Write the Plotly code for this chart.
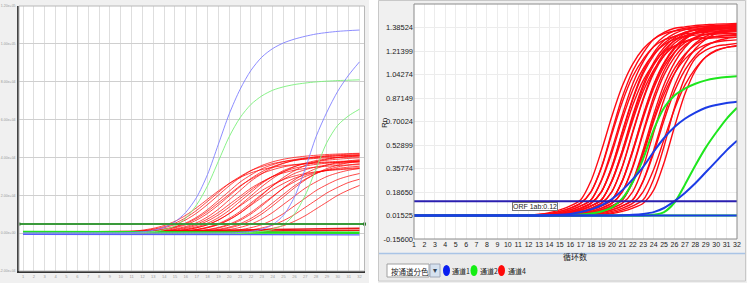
import plotly.graph_objects as go

W, H = 747, 283
cycles = list(range(1, 33))

# ---------------- LEFT PANEL DATA (fluorescence, raw units) ----------------
left_y_ticks = [-20000, 0, 20000, 40000, 60000, 80000, 100000, 120000]
left_y_text = ["-2.00e+04", "0.00e+00", "2.00e+04", "4.00e+04", "6.00e+04", "8.00e+04", "1.00e+05", "1.20e+05"]
left_threshold = 4800

left_blue = [
    [0, 0, 0, 0, 0, 0, 0, 0, 0, 0, 300, 700, 1500, 3000, 6000, 11000, 19000, 31000, 47000, 63000,
     76000, 86000, 93000, 97500, 100500, 102500, 104000, 105200, 106000, 106600, 107000, 107300],
    [0, 0, 0, 0, 0, 0, 0, 0, 0, 0, 0, 0, 0, 0, 0, 0, 0, 0, 0, 0,
     400, 900, 2000, 4500, 9500, 19000, 34000, 51000, 64000, 75000, 83500, 90500],
]
left_green = [
    [0, 0, 0, 0, 0, 0, 0, 0, 0, 0, 0, 300, 800, 1800, 3800, 8000, 15000, 25000, 38000, 51000,
     61000, 68000, 72500, 75500, 77300, 78500, 79300, 79900, 80300, 80600, 80800, 81000],
    [0, 0, 0, 0, 0, 0, 0, 0, 0, 0, 0, 0, 0, 0, 0, 0, 0, 0, 0, 0,
     0, 400, 900, 2000, 4500, 10000, 20000, 34000, 48000, 57000, 62000, 65500],
]
left_red = [
    [0, 0, 0, 0, 0, 0, 0, 150, 290, 540, 930, 1570, 2550, 4020, 6270, 9460, 13480, 17890, 22300, 26220,
     29400, 31850, 33570, 34790, 35620, 36210, 36650, 37000, 37240, 37440, 37580, 37680],
    [0, 0, 0, 0, 0, 0, 0, 0, 210, 420, 740, 1260, 2100, 3360, 5250, 8190, 12080, 16800, 21530, 26250,
     29930, 33080, 35180, 36750, 37800, 38540, 39060, 39480, 39800, 40010, 40220, 40320],
    [0, 0, 0, 0, 0, 0, 0, 0, 165, 330, 605, 1045, 1760, 2860, 4510, 7040, 10620, 15130, 20080, 25030,
     29430, 33000, 35750, 37680, 39050, 39990, 40650, 41140, 41530, 41800, 42020, 42190],
    [0, 0, 0, 0, 0, 0, 0, 0, 0, 200, 400, 700, 1200, 2000, 3200, 5000, 7800, 11500, 16000, 20500,
     25000, 28500, 31500, 33500, 35000, 36000, 36700, 37200, 37600, 37900, 38100, 38300],
    [0, 0, 0, 0, 0, 0, 0, 0, 0, 220, 430, 760, 1300, 2160, 3460, 5400, 8420, 12420, 17280, 22140,
     27000, 30780, 34020, 36180, 37800, 38880, 39640, 40180, 40610, 40930, 41150, 41360],
    [0, 0, 0, 0, 0, 0, 0, 0, 0, 160, 320, 590, 1030, 1730, 2810, 4430, 6910, 10420, 14850, 19710,
     24570, 28890, 32400, 35100, 36990, 38340, 39260, 39910, 40390, 40770, 41040, 41260],
    [0, 0, 0, 0, 0, 0, 0, 0, 0, 0, 190, 380, 670, 1140, 1900, 3040, 4750, 7410, 10930, 15200,
     19480, 23750, 27080, 29930, 31830, 33250, 34200, 34870, 35340, 35720, 36010, 36200],
    [0, 0, 0, 0, 0, 0, 0, 0, 0, 0, 220, 440, 770, 1320, 2200, 3520, 5500, 8580, 12650, 17600,
     22550, 27500, 31350, 34650, 36850, 38500, 39600, 40370, 40920, 41360, 41690, 41910],
    [0, 0, 0, 0, 0, 0, 0, 0, 0, 0, 150, 300, 550, 950, 1600, 2600, 4100, 6400, 9650, 13750,
     18250, 22750, 26750, 30000, 32500, 34250, 35500, 36350, 36950, 37400, 37750, 38000],
    [0, 0, 0, 0, 0, 0, 0, 0, 0, 0, 0, 210, 420, 740, 1260, 2100, 3360, 5250, 8190, 12080,
     16800, 21530, 26250, 29930, 33080, 35180, 36750, 37800, 38540, 39060, 39480, 39800],
    [0, 0, 0, 0, 0, 0, 0, 0, 0, 0, 0, 180, 360, 630, 1080, 1800, 2880, 4500, 7020, 10350,
     14400, 18450, 22500, 25650, 28350, 30150, 31500, 32400, 33030, 33480, 33840, 34110],
    [0, 0, 0, 0, 0, 0, 0, 0, 0, 0, 0, 160, 320, 590, 1030, 1730, 2810, 4430, 6910, 10420,
     14850, 19710, 24570, 28890, 32400, 35100, 36990, 38340, 39260, 39910, 40390, 40770],
    [0, 0, 0, 0, 0, 0, 0, 0, 0, 0, 0, 0, 200, 400, 700, 1200, 2000, 3200, 5000, 7800,
     11500, 16000, 20500, 25000, 28500, 31500, 33500, 35000, 36000, 36700, 37200, 37600],
    [0, 0, 0, 0, 0, 0, 0, 0, 0, 0, 0, 0, 180, 370, 640, 1100, 1840, 2940, 4600, 7180,
     10580, 14720, 18860, 23000, 26220, 28980, 30820, 32200, 33120, 33760, 34220, 34590],
    [0, 0, 0, 0, 0, 0, 0, 0, 0, 0, 0, 0, 165, 330, 605, 1045, 1760, 2860, 4510, 7040,
     10620, 15130, 20080, 25030, 29430, 33000, 35750, 37680, 39050, 39990, 40650, 41140],
    [0, 0, 0, 0, 0, 0, 0, 0, 0, 0, 0, 0, 0, 190, 380, 670, 1140, 1900, 3040, 4750,
     7410, 10930, 15200, 19480, 23750, 27080, 29930, 31830, 33250, 34200, 34870, 35340],
    [0, 0, 0, 0, 0, 0, 0, 0, 0, 0, 0, 0, 0, 160, 320, 580, 1000, 1680, 2730, 4310,
     6720, 10130, 14440, 19160, 23890, 28090, 31500, 34130, 35960, 37280, 38170, 38800],
    [0, 0, 0, 0, 0, 0, 0, 0, 0, 0, 0, 0, 0, 0, 200, 400, 700, 1200, 2000, 3200,
     5000, 7800, 11500, 16000, 20500, 25000, 28500, 31500, 33500, 35000, 36000, 36700],
    [0, 0, 0, 0, 0, 0, 0, 0, 0, 0, 0, 0, 0, 0, 160, 320, 580, 1000, 1680, 2730,
     4310, 6720, 10130, 14440, 19160, 23890, 28090, 31500, 34130, 35960, 37280, 38170],
    [0, 0, 0, 0, 0, 0, 0, 0, 0, 0, 0, 0, 0, 0, 0, 190, 380, 670, 1140, 1900,
     3040, 4750, 7410, 10930, 15200, 19480, 23750, 27080, 29930, 31830, 33250, 34200],
    [0, 0, 0, 0, 0, 0, 0, 0, 0, 0, 0, 0, 0, 0, 0, 0, 180, 360, 630, 1080,
     1800, 2880, 4500, 7020, 10350, 14400, 18450, 22500, 25650, 28350, 30150, 31500],
    [0, 0, 0, 0, 0, 0, 0, 0, 0, 0, 0, 0, 0, 0, 0, 0, 0, 170, 340, 600,
     1020, 1700, 2720, 4250, 6630, 9780, 13600, 17430, 21250, 24230, 26780, 28480],
    [0, 0, 0, 0, 0, 0, 0, 0, 0, 0, 0, 0, 0, 0, 0, 0, 0, 0, 160, 320,
     560, 960, 1600, 2560, 4000, 6240, 9200, 12800, 16400, 20000, 22800, 25200],
]
# drifting / negative baselines
left_red_flat = [
    [200, 250, 300, 380, 450, 520, 600, 680, 760, 840, 920, 1000, 1080, 1160, 1240, 1320,
     1400, 1480, 1560, 1640, 1720, 1800, 1880, 1960, 2040, 2120, 2200, 2280, 2360, 2440, 2520, 2600],
    [300, 320, 350, 380, 420, 460, 500, 540, 580, 620, 660, 700, 740, 780, 820, 860,
     900, 940, 980, 1020, 1060, 1100, 1140, 1180, 1220, 1260, 1300, 1340, 1380, 1420, 1460, 1500],
]
left_green_flat = [
    [600, 600, 550, 550, 500, 500, 450, 450, 400, 400, 400, 400, 350, 350, 350, 350,
     300, 300, 300, 300, 300, 300, 250, 250, 250, 250, 250, 250, 250, 250, 250, 250],
]
left_blue_flat = [
    [-600, -600, -650, -650, -700, -700, -700, -700, -750, -750, -750, -750, -800, -800, -800, -800,
     -800, -800, -850, -850, -850, -850, -850, -850, -900, -900, -900, -900, -900, -900, -900, -900],
]

# ---------------- RIGHT PANEL DATA (Rn) ----------------
right_y_ticks = [-0.156, 0.01525, 0.1865, 0.35775, 0.529, 0.70025, 0.8715, 1.04275, 1.214, 1.38525]
right_y_text = ["-0.15600", "0.01525", "0.18650", "0.35774", "0.52899", "0.70024", "0.87149", "1.04274", "1.21399", "1.38524"]
right_threshold = 0.12

right_red = [
    [0.015, 0.015, 0.015, 0.015, 0.015, 0.015, 0.015, 0.015, 0.015, 0.015, 0.016, 0.018, 0.024, 0.036, 0.056, 0.085,
     0.13, 0.27, 0.49, 0.74, 0.96, 1.12, 1.23, 1.30, 1.34, 1.36, 1.37, 1.375, 1.38, 1.383, 1.385, 1.387],
    [0.016, 0.016, 0.016, 0.016, 0.016, 0.016, 0.016, 0.016, 0.016, 0.016, 0.0155, 0.017, 0.021, 0.029, 0.045, 0.069,
     0.105, 0.19, 0.37, 0.63, 0.88, 1.07, 1.20, 1.30, 1.35, 1.38, 1.39, 1.40, 1.405, 1.41, 1.412, 1.414],
    [0.015, 0.015, 0.015, 0.015, 0.015, 0.015, 0.015, 0.015, 0.015, 0.015, 0.0155, 0.017, 0.021, 0.029, 0.045, 0.069,
     0.105, 0.19, 0.365, 0.61, 0.845, 1.03, 1.155, 1.245, 1.295, 1.32, 1.34, 1.345, 1.35, 1.355, 1.357, 1.36],
    [0.015, 0.015, 0.015, 0.015, 0.015, 0.015, 0.015, 0.015, 0.015, 0.015, 0.015, 0.016, 0.018, 0.024, 0.036, 0.056,
     0.085, 0.13, 0.27, 0.475, 0.72, 0.93, 1.086, 1.19, 1.26, 1.30, 1.32, 1.33, 1.334, 1.338, 1.34, 1.342],
    [0.016, 0.016, 0.016, 0.016, 0.016, 0.016, 0.016, 0.016, 0.016, 0.016, 0.016, 0.016, 0.018, 0.024, 0.036, 0.056,
     0.085, 0.13, 0.275, 0.50, 0.75, 0.975, 1.137, 1.248, 1.32, 1.36, 1.38, 1.39, 1.395, 1.40, 1.403, 1.405],
    [0.014, 0.014, 0.014, 0.014, 0.014, 0.014, 0.014, 0.014, 0.014, 0.014, 0.014, 0.0155, 0.017, 0.021, 0.029, 0.045,
     0.069, 0.105, 0.19, 0.37, 0.62, 0.86, 1.05, 1.18, 1.27, 1.32, 1.35, 1.365, 1.372, 1.378, 1.382, 1.384],
    [0.016, 0.016, 0.016, 0.016, 0.016, 0.016, 0.016, 0.016, 0.016, 0.016, 0.016, 0.0155, 0.017, 0.021, 0.029, 0.045,
     0.069, 0.105, 0.19, 0.36, 0.59, 0.82, 1.00, 1.12, 1.21, 1.25, 1.28, 1.30, 1.305, 1.31, 1.313, 1.315],
    [0.015, 0.015, 0.015, 0.015, 0.015, 0.015, 0.015, 0.015, 0.015, 0.015, 0.015, 0.0155, 0.017, 0.021, 0.029, 0.045,
     0.069, 0.105, 0.19, 0.375, 0.63, 0.87, 1.066, 1.20, 1.29, 1.34, 1.37, 1.385, 1.393, 1.398, 1.40, 1.402],
    [0.015, 0.015, 0.015, 0.015, 0.015, 0.015, 0.015, 0.015, 0.015, 0.015, 0.015, 0.015, 0.016, 0.018, 0.024, 0.036,
     0.056, 0.085, 0.13, 0.27, 0.49, 0.75, 0.97, 1.13, 1.24, 1.31, 1.35, 1.37, 1.38, 1.385, 1.39, 1.393],
    [0.017, 0.017, 0.017, 0.017, 0.017, 0.017, 0.017, 0.017, 0.017, 0.017, 0.017, 0.017, 0.016, 0.018, 0.024, 0.036,
     0.056, 0.085, 0.13, 0.265, 0.47, 0.71, 0.92, 1.075, 1.18, 1.25, 1.285, 1.305, 1.315, 1.32, 1.325, 1.327],
    [0.016, 0.016, 0.016, 0.016, 0.016, 0.016, 0.016, 0.016, 0.016, 0.016, 0.016, 0.016, 0.016, 0.018, 0.024, 0.036,
     0.056, 0.085, 0.13, 0.27, 0.485, 0.73, 0.95, 1.11, 1.22, 1.29, 1.325, 1.345, 1.355, 1.36, 1.365, 1.368],
    [0.015, 0.015, 0.015, 0.015, 0.015, 0.015, 0.015, 0.015, 0.015, 0.015, 0.015, 0.015, 0.0155, 0.017, 0.021, 0.029,
     0.045, 0.069, 0.105, 0.19, 0.37, 0.62, 0.86, 1.05, 1.18, 1.27, 1.32, 1.35, 1.365, 1.372, 1.378, 1.382],
    [0.014, 0.014, 0.014, 0.014, 0.014, 0.014, 0.014, 0.014, 0.014, 0.014, 0.014, 0.014, 0.0155, 0.017, 0.021, 0.029,
     0.045, 0.069, 0.105, 0.19, 0.375, 0.63, 0.87, 1.066, 1.20, 1.29, 1.34, 1.37, 1.385, 1.393, 1.398, 1.40],
    [0.015, 0.015, 0.015, 0.015, 0.015, 0.015, 0.015, 0.015, 0.015, 0.015, 0.015, 0.015, 0.015, 0.016, 0.018, 0.024,
     0.036, 0.056, 0.085, 0.13, 0.265, 0.48, 0.725, 0.94, 1.10, 1.205, 1.275, 1.315, 1.335, 1.345, 1.35, 1.355],
    [0.015, 0.015, 0.015, 0.015, 0.015, 0.015, 0.015, 0.015, 0.015, 0.015, 0.015, 0.015, 0.015, 0.016, 0.018, 0.024,
     0.036, 0.056, 0.085, 0.13, 0.27, 0.49, 0.74, 0.96, 1.12, 1.23, 1.30, 1.34, 1.36, 1.37, 1.375, 1.38],
    [0.016, 0.016, 0.016, 0.016, 0.016, 0.016, 0.016, 0.016, 0.016, 0.016, 0.016, 0.016, 0.016, 0.016, 0.018, 0.024,
     0.036, 0.056, 0.085, 0.13, 0.27, 0.495, 0.75, 0.97, 1.13, 1.24, 1.31, 1.35, 1.37, 1.38, 1.385, 1.39],
    [0.015, 0.015, 0.015, 0.015, 0.015, 0.015, 0.015, 0.015, 0.015, 0.015, 0.015, 0.015, 0.015, 0.0155, 0.017, 0.021,
     0.029, 0.045, 0.069, 0.105, 0.19, 0.365, 0.615, 0.85, 1.04, 1.17, 1.255, 1.305, 1.335, 1.35, 1.358, 1.364],
    [0.014, 0.014, 0.014, 0.014, 0.014, 0.014, 0.014, 0.014, 0.014, 0.014, 0.014, 0.014, 0.014, 0.0155, 0.017, 0.021,
     0.029, 0.045, 0.069, 0.105, 0.19, 0.375, 0.63, 0.88, 1.07, 1.20, 1.30, 1.35, 1.38, 1.39, 1.40, 1.405],
    [0.015, 0.015, 0.015, 0.015, 0.015, 0.015, 0.015, 0.015, 0.015, 0.015, 0.015, 0.015, 0.015, 0.015, 0.016, 0.018,
     0.024, 0.036, 0.056, 0.085, 0.13, 0.265, 0.475, 0.72, 0.93, 1.086, 1.19, 1.26, 1.30, 1.32, 1.33, 1.335],
    [0.015, 0.015, 0.015, 0.015, 0.015, 0.015, 0.015, 0.015, 0.015, 0.015, 0.015, 0.015, 0.015, 0.015, 0.016, 0.018,
     0.024, 0.036, 0.056, 0.085, 0.13, 0.27, 0.495, 0.75, 0.97, 1.13, 1.24, 1.31, 1.35, 1.37, 1.38, 1.385],
    [0.015, 0.015, 0.015, 0.015, 0.015, 0.015, 0.015, 0.015, 0.015, 0.015, 0.015, 0.015, 0.015, 0.015, 0.016, 0.018,
     0.024, 0.036, 0.056, 0.085, 0.13, 0.26, 0.46, 0.70, 0.90, 1.05, 1.155, 1.22, 1.26, 1.28, 1.29, 1.295],
    [0.016, 0.016, 0.016, 0.016, 0.016, 0.016, 0.016, 0.016, 0.016, 0.016, 0.016, 0.016, 0.016, 0.016, 0.0155, 0.017,
     0.021, 0.029, 0.045, 0.069, 0.105, 0.19, 0.37, 0.62, 0.86, 1.05, 1.18, 1.27, 1.32, 1.35, 1.365, 1.372],
    [0.015, 0.015, 0.015, 0.015, 0.015, 0.015, 0.015, 0.015, 0.015, 0.015, 0.015, 0.015, 0.015, 0.015, 0.015, 0.016,
     0.018, 0.024, 0.036, 0.056, 0.085, 0.13, 0.265, 0.47, 0.71, 0.92, 1.075, 1.18, 1.25, 1.285, 1.305, 1.315],
    [0.015, 0.015, 0.015, 0.015, 0.015, 0.015, 0.015, 0.015, 0.015, 0.015, 0.015, 0.015, 0.015, 0.015, 0.015, 0.016,
     0.018, 0.024, 0.036, 0.056, 0.085, 0.13, 0.27, 0.49, 0.74, 0.96, 1.12, 1.23, 1.30, 1.34, 1.36, 1.37],
    [0.015, 0.015, 0.015, 0.015, 0.015, 0.015, 0.015, 0.015, 0.015, 0.015, 0.015, 0.015, 0.015, 0.015, 0.015, 0.0155,
     0.017, 0.021, 0.029, 0.045, 0.069, 0.105, 0.19, 0.35, 0.57, 0.79, 0.965, 1.085, 1.17, 1.215, 1.24, 1.255],
    [0.015, 0.015, 0.015, 0.015, 0.015, 0.015, 0.015, 0.015, 0.015, 0.015, 0.015, 0.015, 0.015, 0.015, 0.015, 0.015,
     0.016, 0.018, 0.024, 0.036, 0.056, 0.085, 0.13, 0.28, 0.52, 0.80, 1.02, 1.16, 1.22, 1.25, 1.26, 1.27],
    [0.015, 0.015, 0.015, 0.015, 0.015, 0.015, 0.015, 0.015, 0.015, 0.015, 0.015, 0.015, 0.015, 0.015, 0.015, 0.015,
     0.0155, 0.017, 0.021, 0.029, 0.045, 0.069, 0.105, 0.20, 0.40, 0.66, 0.90, 1.07, 1.17, 1.22, 1.24, 1.25],
]
right_green = [
    [0.015, 0.015, 0.015, 0.015, 0.015, 0.015, 0.015, 0.015, 0.015, 0.015, 0.015, 0.015, 0.015, 0.015, 0.016, 0.018,
     0.022, 0.030, 0.045, 0.075, 0.14, 0.26, 0.43, 0.64, 0.80, 0.89, 0.94, 0.975, 1.0, 1.015, 1.025, 1.03],
    [0.015, 0.015, 0.015, 0.015, 0.015, 0.015, 0.015, 0.015, 0.015, 0.015, 0.015, 0.015, 0.015, 0.015, 0.015, 0.015,
     0.015, 0.015, 0.015, 0.015, 0.015, 0.015, 0.016, 0.020, 0.040, 0.11, 0.24, 0.38, 0.51, 0.62, 0.72, 0.80],
]
right_blue = [
    [0.015, 0.015, 0.015, 0.015, 0.015, 0.015, 0.015, 0.015, 0.015, 0.015, 0.015, 0.015, 0.015, 0.017, 0.020, 0.027,
     0.040, 0.060, 0.090, 0.135, 0.20, 0.28, 0.37, 0.48, 0.58, 0.66, 0.72, 0.765, 0.80, 0.82, 0.835, 0.845],
    [0.015, 0.015, 0.015, 0.015, 0.015, 0.015, 0.015, 0.015, 0.015, 0.015, 0.015, 0.015, 0.015, 0.015, 0.015, 0.015,
     0.015, 0.015, 0.015, 0.015, 0.017, 0.020, 0.027, 0.040, 0.070, 0.12, 0.18, 0.25, 0.33, 0.41, 0.49, 0.56],
]
right_flat_level = 0.015

legend_labels = ["通道1", "通道2", "通道4"]
dropdown_label = "按通道分色"
threshold_label = "ORF 1ab:0.12"

# ---------------- helpers ----------------
def fx(p):
    return p / W

def fy(p):
    return 1 - p / H

NUM_FONT = "Liberation Sans, Arial, sans-serif"
CJK_FONT = "Noto Sans CJK SC, sans-serif"

fig = go.Figure()

# ---- left traces ----
for ys in left_red_flat:
    fig.add_trace(go.Scatter(x=cycles, y=ys, mode="lines", line=dict(color="rgba(230,0,0,0.9)", width=1.5),
                             xaxis="x", yaxis="y", hoverinfo="skip"))
for ys in left_red:
    fig.add_trace(go.Scatter(x=cycles, y=ys, mode="lines", line=dict(color="rgba(255,0,0,0.8)", width=0.9, shape="spline", smoothing=0.8),
                             xaxis="x", yaxis="y", hoverinfo="skip"))
for ys in left_green_flat:
    fig.add_trace(go.Scatter(x=cycles, y=ys, mode="lines", line=dict(color="#22e022", width=2.5),
                             xaxis="x", yaxis="y", hoverinfo="skip"))
for ys in left_blue_flat:
    fig.add_trace(go.Scatter(x=cycles, y=ys, mode="lines", line=dict(color="#5a5aff", width=1.2),
                             xaxis="x", yaxis="y", hoverinfo="skip"))
for ys in left_green:
    fig.add_trace(go.Scatter(x=cycles, y=ys, mode="lines", line=dict(color="#7af07a", width=0.9, shape="spline", smoothing=0.8),
                             xaxis="x", yaxis="y", hoverinfo="skip"))
for ys in left_blue:
    fig.add_trace(go.Scatter(x=cycles, y=ys, mode="lines", line=dict(color="#8080ff", width=0.9, shape="spline", smoothing=0.8),
                             xaxis="x", yaxis="y", hoverinfo="skip"))
fig.add_trace(go.Scatter(x=[0.63, 32.46], y=[left_threshold, left_threshold], mode="lines+markers",
                         line=dict(color="#3a9a3a", width=2), marker=dict(size=3, color="#2a7a2a", symbol="square"),
                         xaxis="x", yaxis="y", hoverinfo="skip", cliponaxis=False))

# ---- right traces ----
for ys in right_red:
    fig.add_trace(go.Scatter(x=cycles, y=ys, mode="lines", line=dict(color="#ff0a14", width=1.4, shape="spline", smoothing=0.8),
                             xaxis="x2", yaxis="y2", hoverinfo="skip"))
for ys in right_green:
    fig.add_trace(go.Scatter(x=cycles, y=ys, mode="lines", line=dict(color="#1ee61e", width=2, shape="spline", smoothing=0.8),
                             xaxis="x2", yaxis="y2", hoverinfo="skip"))
fig.add_trace(go.Scatter(x=[1, 32], y=[right_flat_level, right_flat_level], mode="lines", line=dict(color="#1ee61e", width=2),
                         xaxis="x2", yaxis="y2", hoverinfo="skip"))
for ys in right_blue:
    fig.add_trace(go.Scatter(x=cycles, y=ys, mode="lines", line=dict(color="#1c3ce6", width=2, shape="spline", smoothing=0.8),
                             xaxis="x2", yaxis="y2", hoverinfo="skip"))
fig.add_trace(go.Scatter(x=[1, 32], y=[right_flat_level, right_flat_level], mode="lines", line=dict(color="#1c3ce6", width=2),
                         xaxis="x2", yaxis="y2", hoverinfo="skip"))
fig.add_trace(go.Scatter(x=[1, 32], y=[right_threshold, right_threshold], mode="lines", line=dict(color="#2a1fb0", width=2),
                         xaxis="x2", yaxis="y2", hoverinfo="skip"))

shapes = [
    # white gap between panels
    dict(type="rect", xref="paper", yref="paper", x0=fx(369), x1=fx(378), y0=0, y1=1,
         fillcolor="white", line=dict(width=0), layer="below"),
    # right panel border
    dict(type="rect", xref="paper", yref="paper", x0=fx(378.5), x1=fx(745.5), y0=fy(281), y1=fy(0.5),
         fillcolor="rgba(0,0,0,0)", line=dict(color="#c8c8c8", width=1), layer="below"),
    # bottom bar of right panel
    dict(type="rect", xref="paper", yref="paper", x0=fx(379), x1=fx(745), y0=fy(280), y1=fy(254),
         fillcolor="#ebebeb", line=dict(width=0), layer="below"),
    dict(type="line", xref="paper", yref="paper", x0=fx(379), x1=fx(745), y0=fy(253.5), y1=fy(253.5),
         line=dict(color="#a9c4e6", width=1.5), layer="below"),
    # dropdown box
    dict(type="rect", xref="paper", yref="paper", x0=fx(387), x1=fx(429), y0=fy(277), y1=fy(264),
         fillcolor="white", line=dict(color="#a0a0a0", width=1), layer="above"),
    dict(type="rect", xref="paper", yref="paper", x0=fx(430), x1=fx(440), y0=fy(277), y1=fy(264),
         fillcolor="#d6e2f0", line=dict(color="#a0a8b8", width=1), layer="above"),
    # legend dots
    dict(type="circle", xref="paper", yref="paper", x0=fx(443), x1=fx(450), y0=fy(276), y1=fy(265),
         fillcolor="#0a1ef0", line=dict(width=0), layer="above"),
    dict(type="circle", xref="paper", yref="paper", x0=fx(470.5), x1=fx(477.5), y0=fy(276), y1=fy(265),
         fillcolor="#14ee14", line=dict(width=0), layer="above"),
    dict(type="circle", xref="paper", yref="paper", x0=fx(498), x1=fx(505), y0=fy(276), y1=fy(265),
         fillcolor="#ff0a0a", line=dict(width=0), layer="above"),
    # left plot frame (top/right light)
    dict(type="rect", xref="paper", yref="paper", x0=fx(19), x1=fx(364.5), y0=fy(271), y1=fy(6),
         fillcolor="rgba(0,0,0,0)", line=dict(color="#b8b8b8", width=1), layer="above"),
    # right plot frame
    dict(type="rect", xref="paper", yref="paper", x0=fx(414), x1=fx(737), y0=fy(239), y1=fy(4),
         fillcolor="rgba(0,0,0,0)", line=dict(color="#8a8a8a", width=1), layer="above"),
]

def note(text, x, y, size, family, xanchor="center", **kw):
    d = dict(text=text, xref="paper", yref="paper", x=fx(x), y=fy(y), showarrow=False,
             xanchor=xanchor, yanchor="middle", font=dict(family=family, size=size, color="#222"))
    d.update(kw)
    return d

annotations = [
    note("Rn", 384, 123, 8, NUM_FONT, textangle=-90),
    note("循环数", 575, 256, 8, CJK_FONT),
    dict(text=threshold_label, xref="x2", yref="y2", x=10.4, y=right_threshold, xanchor="left", yanchor="top",
         showarrow=False, bgcolor="white", bordercolor="#777", borderwidth=1, borderpad=0, yshift=-1,
         font=dict(family=NUM_FONT, size=7, color="#222")),
    note(dropdown_label, 389, 271, 7.5, CJK_FONT, xanchor="left"),
    note("▾", 435, 270.5, 8, NUM_FONT, font=dict(family=NUM_FONT, size=8, color="#345")),
    note(legend_labels[0], 450.5, 271, 7, CJK_FONT, xanchor="left"),
    note(legend_labels[1], 478, 271, 7, CJK_FONT, xanchor="left"),
    note(legend_labels[2], 505.5, 271, 7, CJK_FONT, xanchor="left"),
]

fig.update_layout(
    width=W, height=H,
    margin=dict(l=0, r=0, t=0, b=0, autoexpand=False),
    paper_bgcolor="#f0f0f0",
    plot_bgcolor="white",
    showlegend=False,
    shapes=shapes,
    annotations=annotations,
    xaxis=dict(domain=[fx(19), fx(364.5)], range=[0.63, 32.46], tickvals=cycles, ticktext=[str(c) for c in cycles],
               tickfont=dict(family=NUM_FONT, size=4, color="#999"), showgrid=True, gridcolor="#dedede", gridwidth=1,
               zeroline=False, showline=True, linecolor="#333", linewidth=1.5, ticks="", anchor="y", fixedrange=True,
               automargin=False),
    yaxis=dict(domain=[fy(271), fy(6)], range=[-20000, 120000], tickvals=left_y_ticks, ticktext=left_y_text,
               tickfont=dict(family=NUM_FONT, size=3.5, color="#999"), showgrid=True, gridcolor="#cfcfcf", gridwidth=1,
               zeroline=False, showline=True, linecolor="#444", linewidth=1.5, ticks="", anchor="x", fixedrange=True,
               automargin=False, ticklabelstandoff=1),
    xaxis2=dict(domain=[fx(414), fx(737)], range=[1, 32], tickvals=cycles, ticktext=[str(c) for c in cycles],
                tickfont=dict(family=NUM_FONT, size=7, color="#222"), showgrid=True, gridcolor="#ececec", gridwidth=1,
                zeroline=False, showline=False, ticks="", anchor="y2", fixedrange=True, tickangle=0, automargin=False),
    yaxis2=dict(domain=[fy(239), fy(4)], range=[-0.156, 1.5565], tickvals=right_y_ticks, ticktext=right_y_text,
                tickfont=dict(family=NUM_FONT, size=7.5, color="#222"), showgrid=True, gridcolor="#ececec", gridwidth=1,
                zeroline=False, showline=False, ticks="", anchor="x2", fixedrange=True, automargin=False),
)

fig.write_html("out.html", config={"displayModeBar": False})
